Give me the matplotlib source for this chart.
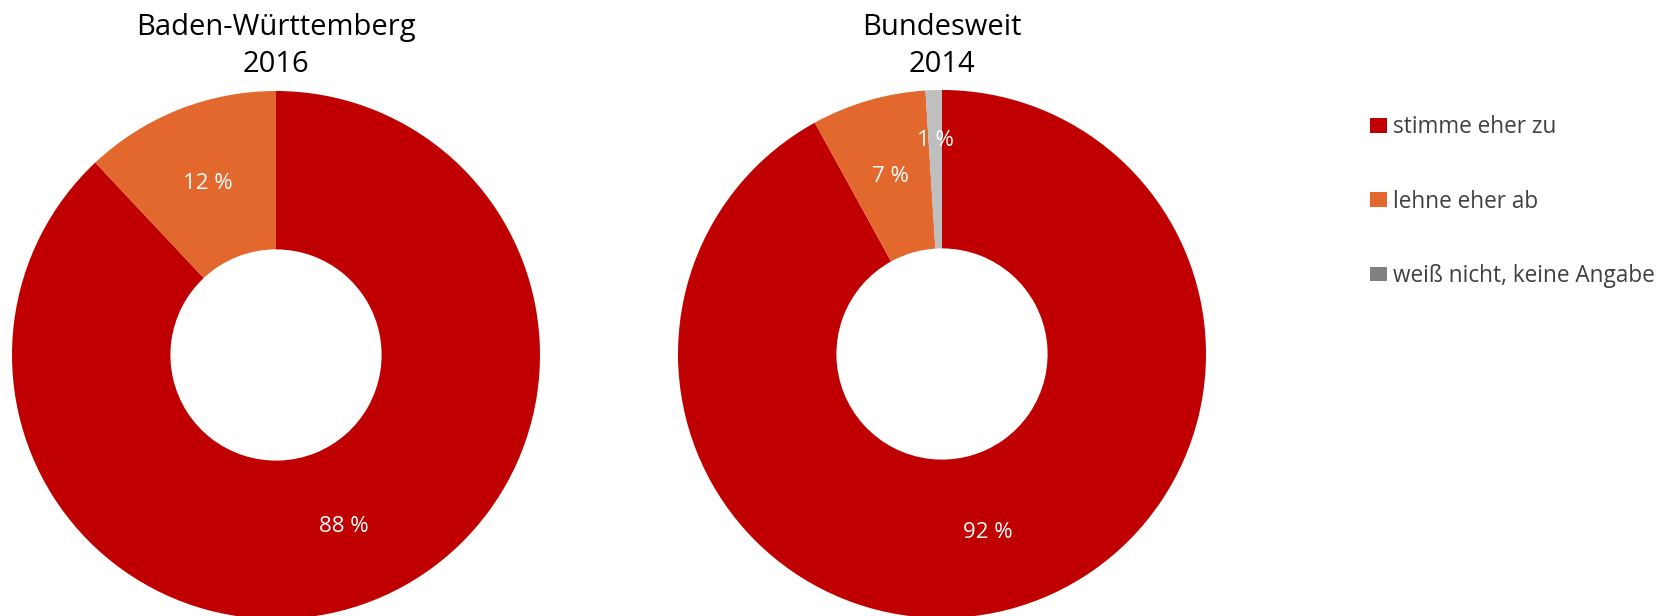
import matplotlib
matplotlib.use("Agg")
import matplotlib.pyplot as plt
from matplotlib.patches import Patch
import numpy as np

categories = ["stimme eher zu", "lehne eher ab", "weiß nicht, keine Angabe"]
bw_2016 = [88, 12]
bund_2014 = [92, 7, 1]
titles = ["Baden-Württemberg\n2016", "Bundesweit\n2014"]

sliceColours = ["#C00000", "#E2682D", "#BFBFBF"]
legendColours = ["#C00000", "#E2682D", "#808080"]

W, H = 1671, 616
fig = plt.figure(figsize=(W / 100, H / 100), dpi=100)

# pie centres and outer radius in pixels
centres = [(276, 355), (942, 354)]
radius = 264


def donut(ax, values, colours):
    wedges, _ = ax.pie(values, colors=colours, startangle=90, counterclock=False,
                       radius=1.0, wedgeprops=dict(width=0.6, edgecolor="none"))
    for w, v in zip(wedges, values):
        mid = np.deg2rad((w.theta1 + w.theta2) / 2)
        r = 0.7 if v > 2 else 0.81
        ax.text(r * np.cos(mid), r * np.sin(mid), "%d %%" % v, color="white",
                ha="center", va="center", fontsize=16, family="Open Sans")
    ax.set_xlim(-1, 1)
    ax.set_ylim(-1, 1)
    ax.set_aspect("equal")
    ax.axis("off")


for (cx, cy), vals, title in zip(centres, [bw_2016, bund_2014], titles):
    ax = fig.add_axes([(cx - radius) / W, (H - cy - radius) / H, 2 * radius / W, 2 * radius / H])
    donut(ax, vals, sliceColours[:len(vals)])
    fig.text(cx / W, 1 - 13 / H, title, ha="center", va="top", fontsize=21,
             family="Open Sans", fontweight="medium", linespacing=1.35)

handles = [Patch(facecolor=c, edgecolor="none") for c in legendColours]
leg = fig.legend(handles, categories, loc="upper left", bbox_to_anchor=(1350 / W, 1 - 95 / H),
                 frameon=False, handlelength=0.72, handleheight=0.62,
                 handletextpad=0.3, labelspacing=2.22, prop={"family": "Open Sans", "size": 16.3})
for t in leg.get_texts():
    t.set_color("#404040")

plt.savefig("out.png", dpi=100)
